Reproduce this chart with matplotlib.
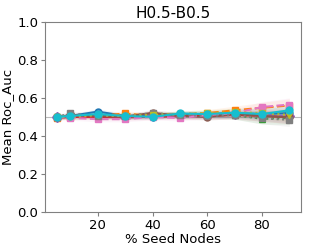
import matplotlib
matplotlib.use("Agg")
import matplotlib.pyplot as plt
import numpy as np

x = [5, 10, 20, 30, 40, 50, 60, 70, 80, 90]
s_blue   = [0.500, 0.505, 0.528, 0.505, 0.510, 0.512, 0.515, 0.520, 0.515, 0.520]
s_orange = [0.495, 0.500, 0.505, 0.518, 0.505, 0.515, 0.520, 0.535, 0.548, 0.560]
s_green  = [0.500, 0.498, 0.505, 0.500, 0.505, 0.510, 0.512, 0.510, 0.490, 0.495]
s_red    = [0.495, 0.500, 0.500, 0.498, 0.500, 0.505, 0.505, 0.510, 0.505, 0.500]
s_purple = [0.500, 0.505, 0.510, 0.500, 0.505, 0.508, 0.510, 0.515, 0.510, 0.505]
s_brown  = [0.498, 0.510, 0.505, 0.500, 0.522, 0.505, 0.500, 0.515, 0.505, 0.498]
s_pink   = [0.500, 0.495, 0.488, 0.488, 0.500, 0.494, 0.510, 0.520, 0.552, 0.565]
s_gray   = [0.500, 0.518, 0.505, 0.505, 0.520, 0.510, 0.505, 0.510, 0.492, 0.485]
s_olive  = [0.502, 0.500, 0.510, 0.505, 0.510, 0.515, 0.520, 0.525, 0.520, 0.510]
s_cyan   = [0.500, 0.505, 0.515, 0.505, 0.500, 0.518, 0.515, 0.522, 0.515, 0.535]
series = [s_blue, s_orange, s_green, s_red, s_purple, s_brown, s_pink, s_gray, s_olive, s_cyan]
err = [0.012, 0.012, 0.014, 0.014, 0.015, 0.016, 0.018, 0.022, 0.028, 0.035]

title = "H0.5-B0.5"
xlabel = "% Seed Nodes"
ylabel = "Mean Roc_Auc"

colors = plt.get_cmap("tab10").colors
markers = ["o", "s", "^", "v", "D", "o", "s", "s", "v", "o"]
styles = ["-", "--", ":", "-", "--", "-", "--", ":", ":", "-"]

fig = plt.figure(figsize=(3.09, 2.49), dpi=100)
ax = fig.add_axes([0.146, 0.149, 0.828, 0.763])
ax.axhline(0.5, color="#bbbbbb", lw=0.8, zorder=0)
for s, c, m, ls in zip(series, colors, markers, styles):
    s = np.array(s)
    e = np.array(err)
    ax.fill_between(x, s - e, s + e, color=c, alpha=0.08, lw=0)
    ax.plot(x, s, color=c, marker=m, ms=5, lw=1.5, ls=ls)

ax.set_ylim(0, 1.0)
ax.set_xlim(0.75, 94.25)
ax.set_yticks([0.0, 0.2, 0.4, 0.6, 0.8, 1.0])
ax.set_xticks([20, 40, 60, 80])
ax.set_title(title, fontsize=11, pad=3)
ax.set_xlabel(xlabel, fontsize=9.5, labelpad=1)
ax.set_ylabel(ylabel, fontsize=9.5, labelpad=2)
ax.tick_params(labelsize=9.5, length=3, color="#808080", pad=2)
for sp in ax.spines.values():
    sp.set_color("#808080")
fig.savefig("out.png", dpi=100)
